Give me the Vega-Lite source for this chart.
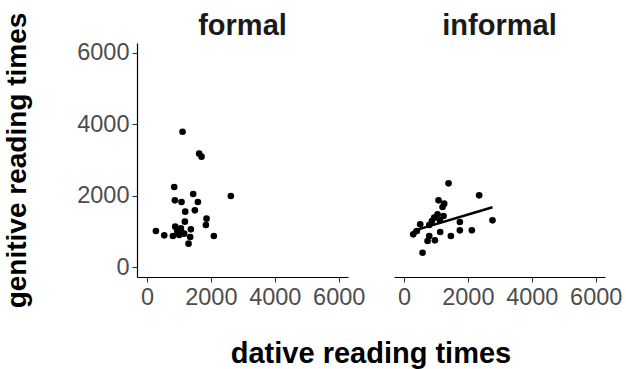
{
  "$schema": "https://vega.github.io/schema/vega-lite/v6.json",
  "background": "white",
  "padding": {"left": 3, "top": 12, "right": 10, "bottom": 0},
  "data": {"values": [
    {"register": "formal", "dative": 1115, "genitive": 3793},
    {"register": "formal", "dative": 1635, "genitive": 3177},
    {"register": "formal", "dative": 1708, "genitive": 3093},
    {"register": "formal", "dative": 854, "genitive": 2243},
    {"register": "formal", "dative": 1448, "genitive": 2047},
    {"register": "formal", "dative": 2625, "genitive": 1990},
    {"register": "formal", "dative": 875, "genitive": 1869},
    {"register": "formal", "dative": 1083, "genitive": 1822},
    {"register": "formal", "dative": 1594, "genitive": 1822},
    {"register": "formal", "dative": 1198, "genitive": 1551},
    {"register": "formal", "dative": 1500, "genitive": 1589},
    {"register": "formal", "dative": 1865, "genitive": 1355},
    {"register": "formal", "dative": 1844, "genitive": 1178},
    {"register": "formal", "dative": 1188, "genitive": 1271},
    {"register": "formal", "dative": 885, "genitive": 1131},
    {"register": "formal", "dative": 1063, "genitive": 1084},
    {"register": "formal", "dative": 1375, "genitive": 1056},
    {"register": "formal", "dative": 281, "genitive": 1009},
    {"register": "formal", "dative": 542, "genitive": 888},
    {"register": "formal", "dative": 813, "genitive": 869},
    {"register": "formal", "dative": 1010, "genitive": 897},
    {"register": "formal", "dative": 1167, "genitive": 935},
    {"register": "formal", "dative": 1354, "genitive": 841},
    {"register": "formal", "dative": 2094, "genitive": 869},
    {"register": "formal", "dative": 1302, "genitive": 654},
    {"register": "formal", "dative": 1063, "genitive": 990},
    {"register": "formal", "dative": 950, "genitive": 1000},
    {"register": "informal", "dative": 1396, "genitive": 2345},
    {"register": "informal", "dative": 2354, "genitive": 2010},
    {"register": "informal", "dative": 1083, "genitive": 1869},
    {"register": "informal", "dative": 1260, "genitive": 1776},
    {"register": "informal", "dative": 1208, "genitive": 1682},
    {"register": "informal", "dative": 1052, "genitive": 1477},
    {"register": "informal", "dative": 1240, "genitive": 1430},
    {"register": "informal", "dative": 948, "genitive": 1383},
    {"register": "informal", "dative": 1125, "genitive": 1308},
    {"register": "informal", "dative": 875, "genitive": 1290},
    {"register": "informal", "dative": 2771, "genitive": 1308},
    {"register": "informal", "dative": 1750, "genitive": 1262},
    {"register": "informal", "dative": 510, "genitive": 1196},
    {"register": "informal", "dative": 792, "genitive": 1178},
    {"register": "informal", "dative": 1750, "genitive": 1028},
    {"register": "informal", "dative": 2125, "genitive": 1028},
    {"register": "informal", "dative": 1135, "genitive": 981},
    {"register": "informal", "dative": 406, "genitive": 1009},
    {"register": "informal", "dative": 292, "genitive": 916},
    {"register": "informal", "dative": 792, "genitive": 869},
    {"register": "informal", "dative": 1469, "genitive": 869},
    {"register": "informal", "dative": 740, "genitive": 729},
    {"register": "informal", "dative": 969, "genitive": 748},
    {"register": "informal", "dative": 583, "genitive": 401}
  ]},
  "facet": {
    "column": {
      "field": "register",
      "type": "nominal",
      "title": "dative reading times",
      "header": {
        "labelOrient": "top",
        "titleOrient": "bottom",
        "labelFont": "Liberation Sans",
        "labelFontSize": 29,
        "labelFontWeight": "bold",
        "labelColor": "#1a1a1a",
        "labelPadding": 2,
        "titleFont": "Liberation Sans",
        "titleFontSize": 29,
        "titleFontWeight": "bold",
        "titleColor": "black",
        "titlePadding": 21
      }
    }
  },
  "spacing": 46,
  "spec": {
    "width": 211,
    "height": 234,
    "layer": [
      {
        "mark": {"type": "point", "filled": true, "color": "black", "size": 44, "opacity": 1},
        "encoding": {
          "x": {"field": "dative", "type": "quantitative", "scale": {"domain": [-310, 6290], "nice": false, "zero": false}, "axis": {"title": null, "values": [0, 2000, 4000, 6000], "format": "d"}},
          "y": {"field": "genitive", "type": "quantitative", "scale": {"domain": [-280, 6280], "nice": false, "zero": false}, "axis": {"title": "genitive reading times", "values": [0, 2000, 4000, 6000], "format": "d", "titlePadding": 45, "titleFontSize": 28}}
        }
      },
      {
        "transform": [
          {"filter": "datum.register === 'informal'"},
          {"regression": "genitive", "on": "dative"}
        ],
        "mark": {"type": "line", "color": "black", "strokeWidth": 2.5},
        "encoding": {
          "x": {"field": "dative", "type": "quantitative"},
          "y": {"field": "genitive", "type": "quantitative"}
        }
      }
    ]
  },
  "config": {
    "view": {"stroke": null},
    "axis": {
      "grid": false,
      "domainColor": "black",
      "domainWidth": 1.2,
      "tickColor": "#333333",
      "tickSize": 5,
      "tickWidth": 1.1,
      "labelFont": "Liberation Sans",
      "labelFontSize": 23.5,
      "labelColor": "#4d4d4d",
      "labelPadding": 3,
      "titleFont": "Liberation Sans",
      "titleFontSize": 29,
      "titleFontWeight": "bold",
      "titleColor": "black",
      "titlePadding": 14
    }
  }
}
